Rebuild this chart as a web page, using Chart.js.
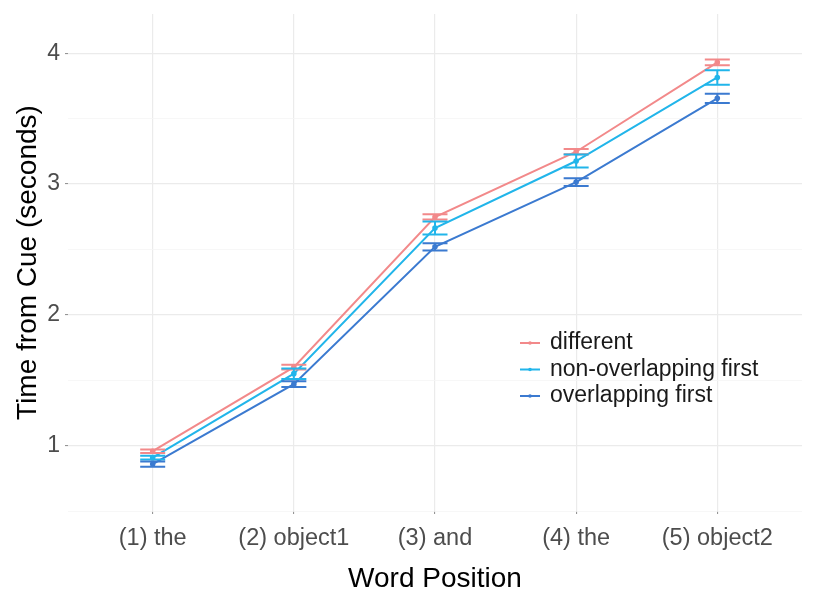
<!DOCTYPE html>
<html>
<head>
<meta charset="utf-8">
<title>Time from Cue by Word Position</title>
<script src="https://cdn.jsdelivr.net/npm/chart.js@4/dist/chart.umd.min.js"></script>
<style>
  html, body { margin: 0; padding: 0; background: #ffffff; }
  #wrap { width: 814px; height: 594px; }
</style>
</head>
<body>
<div id="wrap"><canvas id="chart" width="814" height="594"></canvas></div>
<script>
// Word positions along the x axis
const categories = ['(1) the', '(2) object1', '(3) and', '(4) the', '(5) object2'];

// Mean time from cue (seconds) per condition
const seriesNames = ['different', 'non-overlapping first', 'overlapping first'];
const different     = [0.957, 1.600, 2.748, 3.247, 3.930];
const nonOverlap    = [0.908, 1.550, 2.664, 3.176, 3.815];
const overlap       = [0.859, 1.470, 2.520, 3.015, 3.655];

// Standard errors (half-length of each error bar)
const differentErr  = [0.013, 0.018, 0.020, 0.020, 0.022];
const nonOverlapErr = [0.015, 0.040, 0.050, 0.050, 0.055];
const overlapErr    = [0.020, 0.022, 0.028, 0.030, 0.035];

// Axis ticks
const yTicks = [0.5, 1, 1.5, 2, 2.5, 3, 3.5, 4];
const xTicks = [1, 2, 3, 4, 5];

const colors = ['#F2898A', '#21B5EA', '#3B7AD0'];
const FONT = "'Liberation Sans', Arial, Helvetica, sans-serif";

function toPoints(values) {
  return values.map((v, i) => ({ x: i + 1, y: v }));
}

const values = [different, nonOverlap, overlap];
const errors = [differentErr, nonOverlapErr, overlapErr];

// Error bars with horizontal caps, placed via the chart's scales
const errorBars = {
  id: 'errorBars',
  afterDatasetsDraw(chart) {
    const { ctx, scales: { x, y } } = chart;
    const capHalf = 12.5;
    ctx.save();
    ctx.lineWidth = 2;
    chart.data.datasets.forEach((ds, di) => {
      ctx.strokeStyle = ds.borderColor;
      ds.data.forEach((p, i) => {
        const e = errors[di][i];
        const px = x.getPixelForValue(p.x);
        const top = y.getPixelForValue(p.y + e);
        const bot = y.getPixelForValue(p.y - e);
        ctx.beginPath();
        ctx.moveTo(px - capHalf, top); ctx.lineTo(px + capHalf, top);
        ctx.moveTo(px - capHalf, bot); ctx.lineTo(px + capHalf, bot);
        ctx.moveTo(px, top); ctx.lineTo(px, bot);
        ctx.stroke();
      });
    });
    ctx.restore();
  }
};

// Legend drawn inside the plotting panel
const insideLegend = {
  id: 'insideLegend',
  afterDraw(chart) {
    const { ctx, chartArea } = chart;
    const x0 = chartArea.left + 452;
    const y0 = chartArea.top + 329;
    const gap = 26.5;
    ctx.save();
    ctx.font = '23px ' + FONT;
    ctx.textBaseline = 'middle';
    ctx.textAlign = 'left';
    chart.data.datasets.forEach((ds, i) => {
      const yy = y0 + i * gap;
      ctx.strokeStyle = ds.borderColor;
      ctx.fillStyle = ds.borderColor;
      ctx.lineWidth = 2;
      ctx.beginPath();
      ctx.moveTo(x0, yy); ctx.lineTo(x0 + 20, yy);
      ctx.stroke();
      ctx.beginPath();
      ctx.arc(x0 + 10, yy, 1.8, 0, Math.PI * 2);
      ctx.fill();
      ctx.fillStyle = '#1a1a1a';
      ctx.fillText(ds.label, x0 + 30, yy);
    });
    ctx.restore();
  }
};

const isMajor = v => Math.abs(v - Math.round(v)) < 1e-9;

new Chart(document.getElementById('chart'), {
  type: 'line',
  data: {
    datasets: values.map((vals, i) => ({
      label: seriesNames[i],
      data: toPoints(vals),
      borderColor: colors[i],
      backgroundColor: colors[i],
      borderWidth: 2,
      pointRadius: 1.8,
      pointHoverRadius: 1.8,
      tension: 0,
      fill: false
    }))
  },
  options: {
    responsive: false,
    animation: false,
    devicePixelRatio: 1,
    layout: { padding: { top: 14, right: 12, left: 0, bottom: 0 } },
    plugins: { legend: { display: false }, tooltip: { enabled: false } },
    scales: {
      x: {
        type: 'linear',
        min: 0.4,
        max: 5.6,
        afterBuildTicks: s => { s.ticks = xTicks.map(v => ({ value: v })); },
        afterFit: s => { s.height = 83; s.paddingLeft = 0; s.paddingRight = 0; },
        border: { display: false },
        grid: { color: '#EBEBEB', lineWidth: 1.2, tickLength: 3, tickColor: '#8a8a8a', tickWidth: 1 },
        ticks: {
          autoSkip: false, maxRotation: 0, padding: 10,
          font: { family: FONT, size: 23.5 }, color: '#4D4D4D',
          callback: v => categories[v - 1] ?? ''
        },
        title: {
          display: true, text: 'Word Position', color: '#000000',
          font: { family: FONT, size: 28, lineHeight: 1 }, padding: { top: 0, bottom: 1 }
        }
      },
      y: {
        type: 'linear',
        min: 0.5,
        max: 4.3,
        afterBuildTicks: s => { s.ticks = yTicks.map(v => ({ value: v })); },
        afterFit: s => { s.width = 68; s.paddingTop = 0; s.paddingBottom = 0; },
        border: { display: false },
        grid: {
          color: c => isMajor(c.tick.value) ? '#EBEBEB' : '#F5F5F5',
          lineWidth: c => isMajor(c.tick.value) ? 1.2 : 0.8,
          tickLength: 3,
          tickColor: c => isMajor(c.tick.value) ? '#8a8a8a' : 'rgba(0,0,0,0)',
          tickWidth: 1
        },
        ticks: {
          autoSkip: false, padding: 5,
          font: { family: FONT, size: 23 }, color: '#4D4D4D',
          callback: v => isMajor(v) ? String(v) : ''
        },
        title: {
          display: true, text: 'Time from Cue (seconds)', color: '#000000',
          font: { family: FONT, size: 28, lineHeight: 1 }, padding: { top: 14, bottom: 0 }
        }
      }
    }
  },
  plugins: [errorBars, insideLegend]
});
</script>
</body>
</html>
